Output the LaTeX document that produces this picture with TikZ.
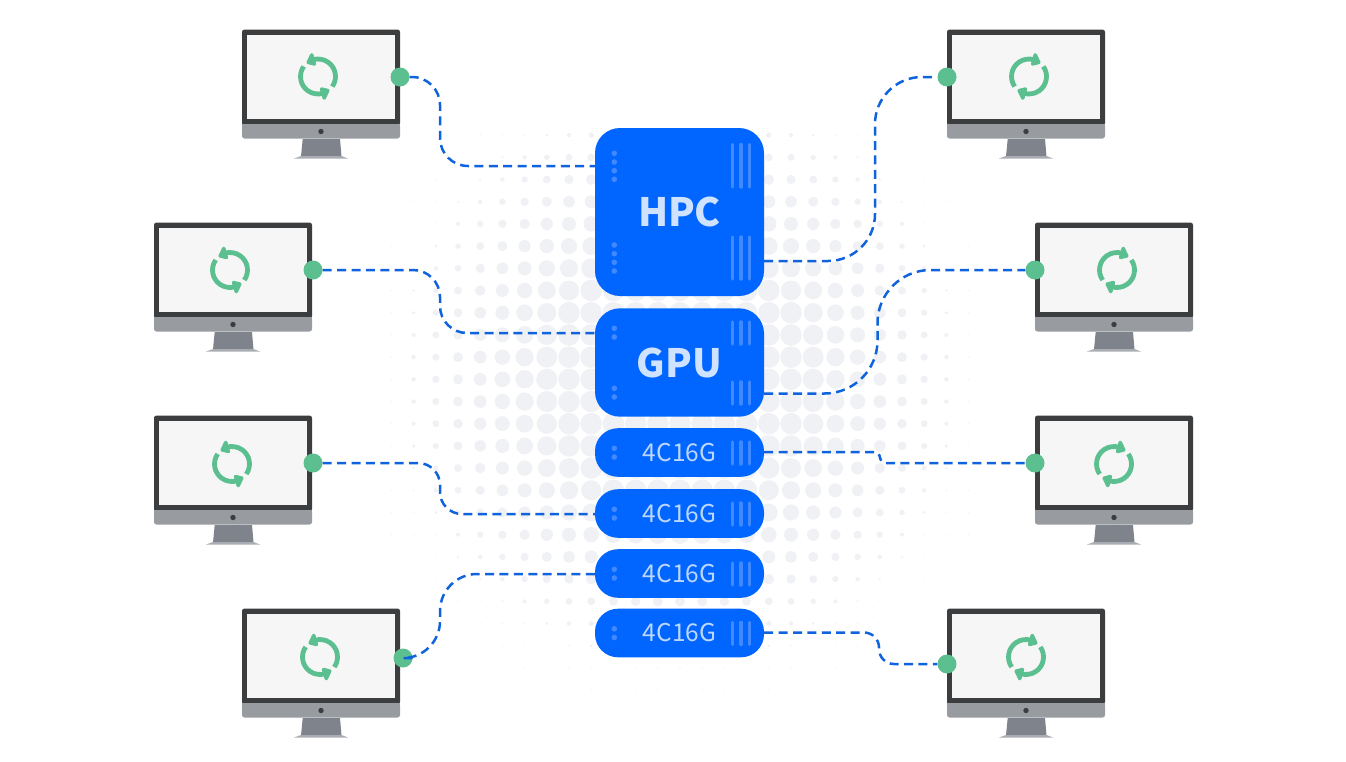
\documentclass[tikz,border=0pt]{standalone}
\usepackage{fontspec}
\setmainfont{Noto Sans CJK SC}
\usetikzlibrary{positioning}

\definecolor{srvblue}{HTML}{0066FF}
\definecolor{srvmark}{HTML}{4089FF}
\definecolor{srvtext}{HTML}{CFE2FF}
\definecolor{srvlight}{HTML}{BBD6FF}
\definecolor{linkblue}{HTML}{0F63DC}
\definecolor{syncgreen}{HTML}{5CBF90}
\definecolor{bezel}{HTML}{3C3D3F}
\definecolor{chin}{HTML}{989CA0}
\definecolor{standgray}{HTML}{7F838B}
\definecolor{footgray}{HTML}{A9ACB2}
\definecolor{panel}{HTML}{F6F6F6}
\definecolor{halo}{HTML}{F0F1F4}

\begin{document}
\begin{tikzpicture}[
  x=1pt, y=-1pt,
  server/.style={fill=srvblue, rectangle, rounded corners=#1, minimum width=169pt,
                 inner sep=0pt, align=center},
  bigserver/.style={server=25pt, text=srvtext, font=\fontsize{39}{39}\selectfont\bfseries},
  smallserver/.style={server=23pt, minimum height=48.6pt, text=srvlight,
                      font=\fontsize{24.5}{24.5}\selectfont},
  port/.style={fill=syncgreen, circle, minimum size=19pt, inner sep=0pt},
  link/.style={draw=linkblue, line width=2.5pt, dash pattern=on 9pt off 5.4pt},
  bar/.style={draw=srvmark, line width=3.5pt, line cap=round},
  pics/monitor/.style={code={
    \fill[bezel, rounded corners=2.5pt] (0,0) rectangle (158,96);
    \fill[panel] (5,5.2) rectangle (153,89.2);
    \fill[chin, rounded corners=2.5pt] (0,94.5) -- (158,94.5) -- (158,109) -- (0,109) -- cycle;
    \fill[chin] (0,94.5) rectangle (158,100);
    \fill[bezel] (79,102) circle (2.7);
    \fill[standgray] (60.7,109.5) -- (98,109.5) -- (99.5,126.8) -- (59,126.8) -- cycle;
    \fill[footgray] (59,126.5) -- (99.5,126.5) -- (106,129) -- (52,129) -- cycle;
  }},
  pics/sync/.style={code={
    \begin{scope}[y=1pt]
      \foreach \turn in {0,180} {
        \begin{scope}[rotate=\turn]
          \draw[syncgreen, line width=4.8pt] (-35:17.5) arc[start angle=-35, end angle=108, radius=17.5];
          \fill[syncgreen, draw=syncgreen, line width=3.4pt, line join=round]
            (106:13) -- (106:22.5) -- (125:17.2) -- cycle;
        \end{scope}
      }
    \end{scope}
  }},
]
\useasboundingbox (0,0) rectangle (1346,761);
%% Halo of dots behind the servers
\foreach \i in {-13,...,13} {
  \foreach \j in {-11,...,14} {
    \pgfmathsetmacro{\dist}{veclen(\i,\j)*22.2}
    \pgfmathsetmacro{\rad}{max(0.7,min(10.8,(21-(\dist-135)*0.125)/2))}
    \pgfmathparse{\dist<330 ? 1 : 0}
    \ifnum\pgfmathresult=1
      \fill[halo] (680+\i*22.2,379.3+\j*22.2) circle (\rad);
    \fi
  }
}
%% Monitors
\pic at (242,29.5)   {monitor};
\pic at (947,29.5)   {monitor};
\pic at (154,222.5)  {monitor};
\pic at (1035,222.5) {monitor};
\pic at (154,415.5)  {monitor};
\pic at (1035,415.5) {monitor};
\pic at (242,608.5)  {monitor};
\pic at (947,608.5)  {monitor};
\pic at (318,76.5)   {sync};
\pic[xscale=-1] at (1029,76.5) {sync};
\pic at (230,270)    {sync};
\pic[xscale=-1] at (1117,270)  {sync};
\pic at (232,464)    {sync};
\pic[xscale=-1] at (1114,464)  {sync};
\pic at (320,657)    {sync};
\pic[xscale=-1] at (1026,657)  {sync};
%% Ports on the monitors
\node[port] at (400,77)   (pa) {};
\node[port] at (947,77)   (pb) {};
\node[port] at (313,270)  (pc) {};
\node[port] at (1035,270) (pd) {};
\node[port] at (313,463)  (pe) {};
\node[port] at (1035,463) (pf) {};
\node[port] at (403,658)  (pg) {};
\node[port] at (947,664)  (ph) {};
%% Servers
\node[bigserver, minimum height=168pt] at (679.5,212)   (hpc) {\raisebox{-2pt}{HPC}};
\node[bigserver, minimum height=108.4pt] at (679.5,362.5) (gpu) {GPU};
\node[smallserver] at (679.5,452.5) (sa) {4C16G};
\node[smallserver] at (679.5,513.5) (sb) {4C16G};
\node[smallserver] at (679.5,573.5) (sc) {4C16G};
\node[smallserver] at (679.5,633)   (sd) {4C16G};
%% Where the links meet the servers
\coordinate (hpcw) at (hpc.west |- 0,166);
\coordinate (hpce) at (hpc.east |- 0,261);
\coordinate (gpuw) at (gpu.west |- 0,333);
\coordinate (gpue) at (gpu.east |- 0,393.5);
\coordinate (sae)  at (sa.east |- 0,452);
\coordinate (sbw)  at (sb.west |- 0,514);
\coordinate (scw)  at (sc.west |- 0,574);
\coordinate (sde)  at (sd.east |- 0,632.5);
%% Links
\draw[link, rounded corners=28pt] (pa) -- (440,77) -- (440,166) -- (hpcw);
\draw[link, rounded corners=47pt] (hpce) -- (875,261) -- (875,77) -- (pb);
\draw[link, rounded corners=27pt] (pc) -- (440,270) -- (440,333) -- (gpuw);
\draw[link, rounded corners=53pt] (gpue) -- (877.5,393.5) -- (877.5,270) -- (pd);
\draw[link, rounded corners=22pt] (pe) -- (440,463) -- (440,514) -- (sbw);
\draw[link, rounded corners=6pt]  (sae) -- (880,452) -- (880,463) -- (pf);
\draw[link, rounded corners=37pt] (pg) -- (440,658) -- (440,574) -- (scw);
\draw[link, rounded corners=15pt] (sde) -- (879,632.5) -- (879,664) -- (ph);
%% Marks on the server fronts
\foreach \y in {153.3,162,170.7,179.3,245,253.7,262.3,271,328.3,337,388.3,397,
                448.3,457,509.3,518,569.3,578,628.8,637.5}
  \fill[srvmark] (614.3,\y) circle (2.8);
\foreach \x in {732.3,741,749.7} {
  \foreach \ya/\yb in {144.5/187,237/279,322/344,382/404,442/464,503/525,563/585,622.5/644.5}
    \draw[bar] (\x,\ya) -- (\x,\yb);
}
\end{tikzpicture}
\end{document}
